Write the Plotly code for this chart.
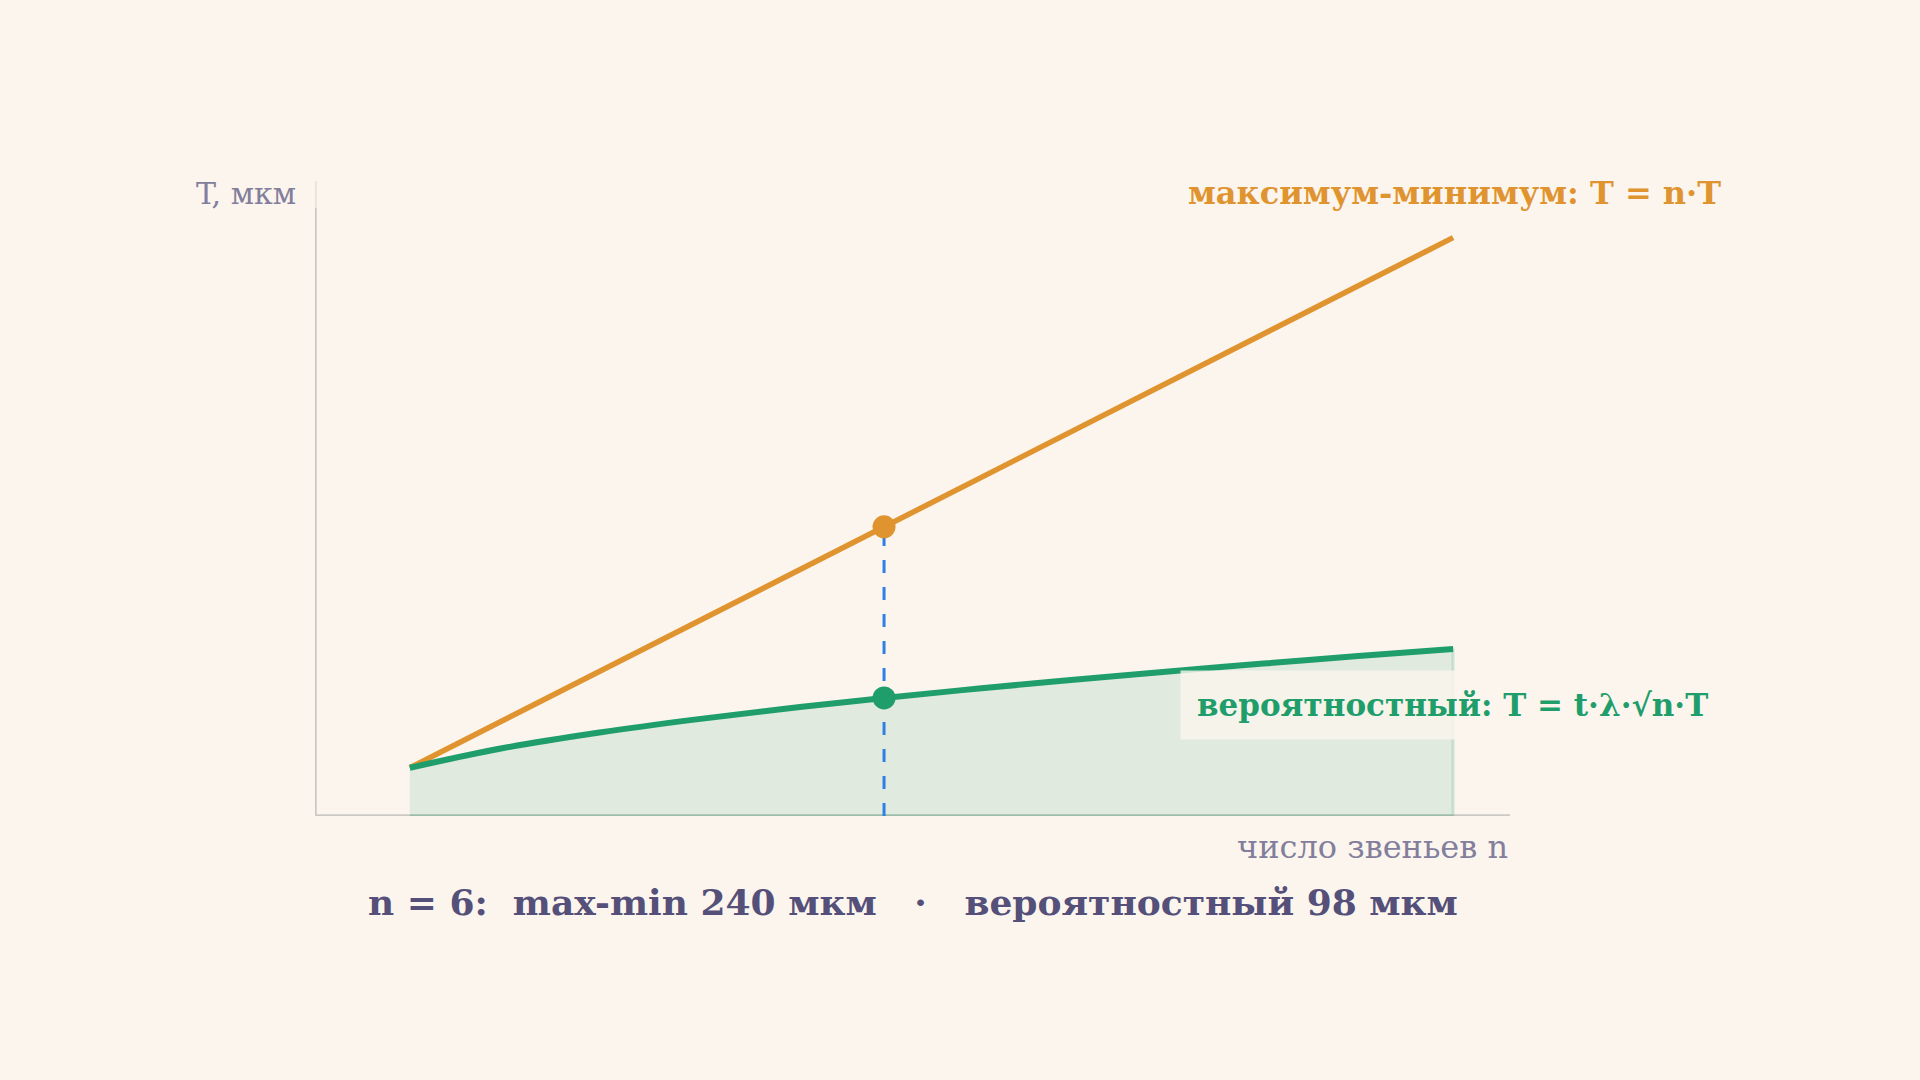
import plotly.graph_objects as go

# ---- data ----
n_links = [1, 2, 3, 4, 5, 6, 7, 8, 9, 10, 11, 12]
maxmin_um = [40, 80, 120, 160, 200, 240, 280, 320, 360, 400, 440, 480]
prob_um = [40, 56.6, 69.3, 80, 89.4, 98, 105.8, 113.1, 120, 126.5, 132.7, 138.6]
focus_n = 6
focus_maxmin = 240
focus_prob = 98

label_y = "T, мкм"
label_x = "число звеньев n"
label_maxmin = "максимум-минимум: T = n·T"
label_prob = "вероятностный: T = t·λ·√n·T"
summary = "n = 6:  max-min 240 мкм   ·   вероятностный 98 мкм"

BG = "#fbf5ee"
ORANGE = "#e0942f"
GREEN = "#1f9e6b"
BLUE = "#2f80e4"
AXIS = "#cdc8c4"
TEXT = "#545079"
TEXT_LIGHT = "#837e9c"
FONT = "DejaVu Serif"

fig = go.Figure()

# probabilistic area
fig.add_trace(go.Scatter(
    x=n_links + [n_links[-1], n_links[0]],
    y=prob_um + [0, 0],
    mode="lines", fill="toself",
    fillcolor="rgba(31,158,107,0.12)",
    line=dict(color="rgba(31,158,107,0.18)", width=3),
    hoverinfo="skip", showlegend=False,
))

# dashed drop line
fig.add_trace(go.Scatter(
    x=[focus_n, focus_n], y=[0, focus_maxmin],
    mode="lines", line=dict(color=BLUE, width=3, dash="13px,14px"),
    hoverinfo="skip", showlegend=False,
))

fig.add_trace(go.Scatter(
    x=n_links, y=maxmin_um, mode="lines",
    line=dict(color=ORANGE, width=5.5), showlegend=False,
))
fig.add_trace(go.Scatter(
    x=n_links, y=prob_um, mode="lines",
    line=dict(color=GREEN, width=6, shape="spline"), showlegend=False,
))
fig.add_trace(go.Scatter(
    x=[focus_n, focus_n], y=[focus_maxmin, focus_prob], mode="markers",
    marker=dict(size=23, color=[ORANGE, GREEN], line=dict(width=0)),
    showlegend=False,
))

# axes lines as shapes
fig.add_shape(type="line", xref="x", yref="y", x0=0, x1=0, y0=0, y1=505,
              line=dict(color=AXIS, width=3.5))
fig.add_shape(type="line", xref="x", yref="y", x0=0, x1=0, y0=505, y1=527,
              line=dict(color="#e8e2dc", width=3.5))
fig.add_shape(type="line", xref="x", yref="y", x0=-0.04, x1=12.6, y0=0, y1=0,
              line=dict(color=AXIS, width=3.5), layer="below")

annotations = [
    dict(text=label_y, xref="paper", yref="paper", x=-0.0142, y=0.981,
         xanchor="right", yanchor="middle", showarrow=False,
         font=dict(family=FONT, size=30, color=TEXT_LIGHT)),
    dict(text=label_x, xref="paper", yref="paper", x=1.0, y=-0.049,
         xanchor="right", yanchor="middle", showarrow=False,
         font=dict(family=FONT, size=32, color=TEXT_LIGHT)),
    dict(text="<b>" + label_maxmin + "</b>", xref="paper", yref="paper",
         x=1.178, y=0.981, xanchor="right", yanchor="middle", showarrow=False,
         font=dict(family=FONT, size=32, color=ORANGE)),
    dict(text="<b>" + label_prob + "</b>", xref="paper", yref="paper",
         x=0.724, y=0.175, xanchor="left", yanchor="middle", showarrow=False,
         bgcolor="rgba(251,245,238,0.8)", borderpad=16,
         font=dict(family=FONT, size=31, color=GREEN)),
    dict(text="<b>" + summary + "</b>", xref="paper", yref="paper",
         x=0.5004, y=-0.135, xanchor="center", yanchor="middle", showarrow=False,
         font=dict(family=FONT, size=36, color=TEXT)),
]

fig.update_layout(
    width=1920, height=1080,
    paper_bgcolor=BG, plot_bgcolor=BG,
    margin=dict(l=315, r=410, t=181, b=264, pad=0),
    xaxis=dict(range=[0, 12.6], visible=False, fixedrange=True),
    yaxis=dict(range=[0, 527], visible=False, fixedrange=True),
    annotations=annotations,
    showlegend=False,
)

fig.write_html(
    "out.html",
    config={"displayModeBar": False, "staticPlot": True},
    post_script="document.body.style.margin='0';document.body.style.padding='0';"
                "document.body.style.background='" + BG + "';",
)
